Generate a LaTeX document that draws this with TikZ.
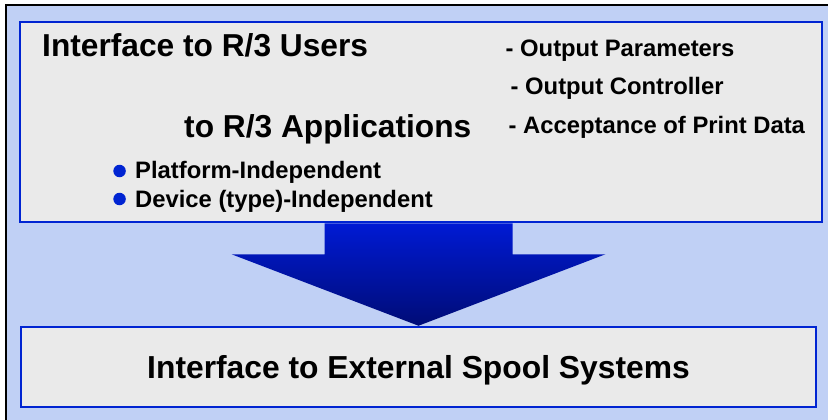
\documentclass[tikz,border=0pt]{standalone}
\usepackage{fontspec}
\setmainfont{Liberation Sans}
\usetikzlibrary{positioning}
\definecolor{bgblue}{RGB}{192,208,245}
\definecolor{panelgray}{RGB}{234,234,234}
\definecolor{edgeblue}{RGB}{0,36,210}
\definecolor{arrowtop}{RGB}{0,26,212}
\definecolor{arrowbot}{RGB}{0,12,118}

\begin{document}
\begin{tikzpicture}[x=1pt, y=-1pt, every node/.style={font=\bfseries, inner sep=0pt},
  panel/.style={draw=edgeblue, line width=2.5pt, fill=panelgray, rectangle},
  bigtext/.style={font=\bfseries\fontsize{31.7}{36}\selectfont, anchor=base west},
  smalltext/.style={font=\bfseries\fontsize{23.8}{28}\selectfont, anchor=base west},
  bulletdot/.style={circle, fill=edgeblue, minimum size=12.5pt},
  arrowfill/.style={top color=arrowtop, bottom color=arrowbot}]
  \useasboundingbox (0,0) rectangle (828,420);
  \fill[bgblue] (5.5,5.5) rectangle (828,420);
  \draw[line width=2pt] (5.5,420) -- (5.5,5.5) -- (828,5.5);

  \node[panel, minimum width=802pt, minimum height=200pt] (apibox) at (421,122) {};
  \node[panel, minimum width=795pt, minimum height=80pt, text height=22.7pt, text depth=0pt,
        font=\bfseries\fontsize{31.8}{36}\selectfont] (spoolbox) at (418.5,367) {Interface to External Spool Systems};

  \node[bigtext] (users) at (42,57) {Interface to R/3 Users};
  \node[bigtext] (apps) at (184,137) {to R/3 Applications};
  \node[smalltext] (params) at (505.5,57) {- Output Parameters};
  \node[smalltext] (ctrl) at (510.5,95) {- Output Controller};
  \node[smalltext] (accept) at (508.5,133) {- Acceptance of Print Data};
  \node[smalltext] (platform) at (135,178) {Platform-Independent};
  \node[smalltext] (device) at (135,207) {Device (type)-Independent};
  \node[bulletdot, left=9pt of platform.base west, yshift=7pt] (dot1) {};
  \node[bulletdot, left=9pt of device.base west, yshift=8pt] (dot2) {};

  \coordinate (atop) at (apibox.south -| spoolbox.north);
  \shade[arrowfill] ([xshift=-94pt]atop) -- ([xshift=94pt]atop) -- ([xshift=94pt,yshift=-31pt]atop)
    -- ([xshift=187pt,yshift=-31pt]atop) -- (spoolbox.north) -- ([xshift=-187pt,yshift=-31pt]atop)
    -- ([xshift=-94pt,yshift=-31pt]atop) -- cycle;
\end{tikzpicture}
\end{document}
